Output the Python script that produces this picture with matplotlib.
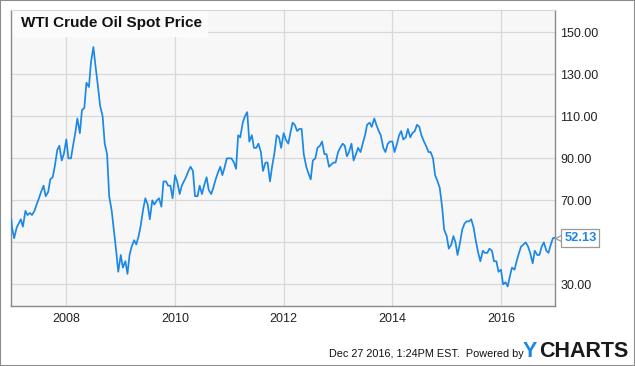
import matplotlib
matplotlib.use("Agg")
import matplotlib.pyplot as plt
import matplotlib.dates as mdates
from matplotlib.patches import Rectangle
import numpy as np
import pandas as pd

plt.rcParams['font.family'] = ['Liberation Sans', 'DejaVu Sans']

# semi-monthly WTI spot price (1st and 15th of each month)
p2007 = [57, 52, 57, 59, 61, 57.5, 65, 63, 64, 63, 65, 68, 71, 74, 77, 72, 74, 80, 81, 86, 94, 96, 89, 92]
p2008 = [99, 90, 90, 96, 102, 109, 102, 113, 114, 126, 124, 136, 143, 134, 124, 115, 110, 97, 92, 72, 65, 56, 46, 36]
p2009 = [44, 38, 41, 35, 44, 48, 51, 49, 53, 58, 66, 71, 68, 61, 70, 68, 70, 71, 67, 79, 79, 77, 77, 71]
p2010 = [82, 79, 73, 77, 79, 81, 84, 86, 84, 72, 72, 77, 73, 77, 81, 75, 73, 76, 80, 83, 86, 82, 86, 90]
p2011 = [90, 90, 88, 85, 101, 100, 107, 110, 112, 98, 101, 95, 95, 97, 93, 84, 88, 88, 79, 86, 93, 101, 100, 95]
p2012 = [102, 99, 97, 102, 107, 106, 103, 104, 104, 92, 86, 83, 80, 89, 90, 95, 96, 98, 92, 92, 86, 87, 88, 88]
p2013 = [93, 95, 97, 96, 91, 93, 97, 89, 92, 95, 93, 97, 101, 106, 107, 105, 109, 106, 103, 101, 95, 93, 97, 98]
p2014 = [98, 93, 97, 101, 103, 99, 100, 104, 100, 102, 103, 106, 105, 101, 98, 96, 93, 93, 90, 82, 79, 76, 67, 56]
p2015 = [53, 47, 49, 53, 50, 44, 50, 56, 59, 60, 60, 61, 57, 51, 45, 41, 46, 45, 45, 47, 46, 41, 41, 36]
p2016 = [37, 30, 31, 29, 34, 38, 37, 41, 45, 48, 49, 50, 48, 45, 40, 46, 44, 44, 48, 50, 46, 45, 49, 52]
first_date, first_price = "2006-12-27", 61.0
last_date, last_price = "2016-12-27", 52.13

y_ticks = [30, 50, 70, 90, 110, 130, 150]
y_labels = ["30.00", "", "70.00", "90.00", "110.00", "130.00", "150.00"]  # 50.00 sits under the price tag

prices = [first_price] + p2007 + p2008 + p2009 + p2010 + p2011 + p2012 + p2013 + p2014 + p2015 + p2016 + [last_price]
dates = ([pd.Timestamp(first_date)]
         + list(pd.date_range("2007-01-01", periods=240, freq="SMS"))
         + [pd.Timestamp(last_date)])

blue = '#1b88e8'
fig = plt.figure(figsize=(6.35, 3.66), dpi=100)
ax = fig.add_axes([11/635, 1 - 306/366, (554.7 - 11)/635, (306 - 10.3)/366])
ax.set_facecolor('#f7f7f7')

ax.plot(dates, prices, color=blue, lw=1.25, zorder=3)

ax.set_xlim(pd.Timestamp("2006-12-25"), pd.Timestamp("2016-12-27"))
ax.set_ylim(19.7, 160.5)
ax.set_yticks(y_ticks)
ax.set_yticklabels(y_labels)
ax.yaxis.tick_right()
ax.xaxis.set_major_locator(mdates.YearLocator(2))
ax.xaxis.set_major_formatter(mdates.DateFormatter('%Y'))
ax.tick_params(length=0, labelsize=9, colors='#222222')
ax.tick_params(axis='y', pad=4)
ax.tick_params(axis='x', pad=5)
ax.grid(True, color='#d8d8d8', lw=0.9)
ax.set_axisbelow(True)
for s in ['left', 'bottom', 'right']:
    ax.spines[s].set_color('#8a8a8a')
    ax.spines[s].set_linewidth(1.0)
ax.spines['top'].set_color('#d8d8d8')

# title box
ax.add_patch(Rectangle((0, 1 - 26.5/296), 197/544, 26.5/296, transform=ax.transAxes,
                       fc='#fbfbfb', ec='none', zorder=2))
ax.text(10/544, 1 - 13/296, "WTI Crude Oil Spot Price", transform=ax.transAxes,
        fontsize=11, fontweight='bold', va='center', ha='left', color='#111111', zorder=4)

# last value label with its little pointer
ytr = ax.get_yaxis_transform()
ax.plot([1 + 6.5/544], [last_price], marker='<', ms=9, mfc='white', mec='#999999', mew=0.9,
        transform=ytr, clip_on=False, zorder=5)
ax.text(1 + 9.5/544, last_price, "%.2f" % last_price, transform=ytr,
        fontsize=9.3, fontweight='bold', color=blue, va='center', ha='left', zorder=6,
        bbox=dict(boxstyle='square,pad=0.22', fc='white', ec='#999999', lw=0.9))

# footer
fig.text(329/635, 1 - 357/366, "Dec 27 2016, 1:24PM EST.  Powered by", fontsize=7.8,
         color='#111111', ha='left', va='baseline')
fig.text(523/635, 1 - 357/366, "Y", fontsize=15.5, fontweight='bold', color=blue,
         ha='left', va='baseline')
fig.text(539/635, 1 - 357/366, "CHARTS", fontsize=15.5, fontweight='bold', color='#1a1a1a',
         ha='left', va='baseline')

fig.patches.append(Rectangle((0, 0), 1, 1, transform=fig.transFigure, fill=False,
                             ec='#8c8c8c', lw=1.5))

fig.savefig("out.png", dpi=100)
